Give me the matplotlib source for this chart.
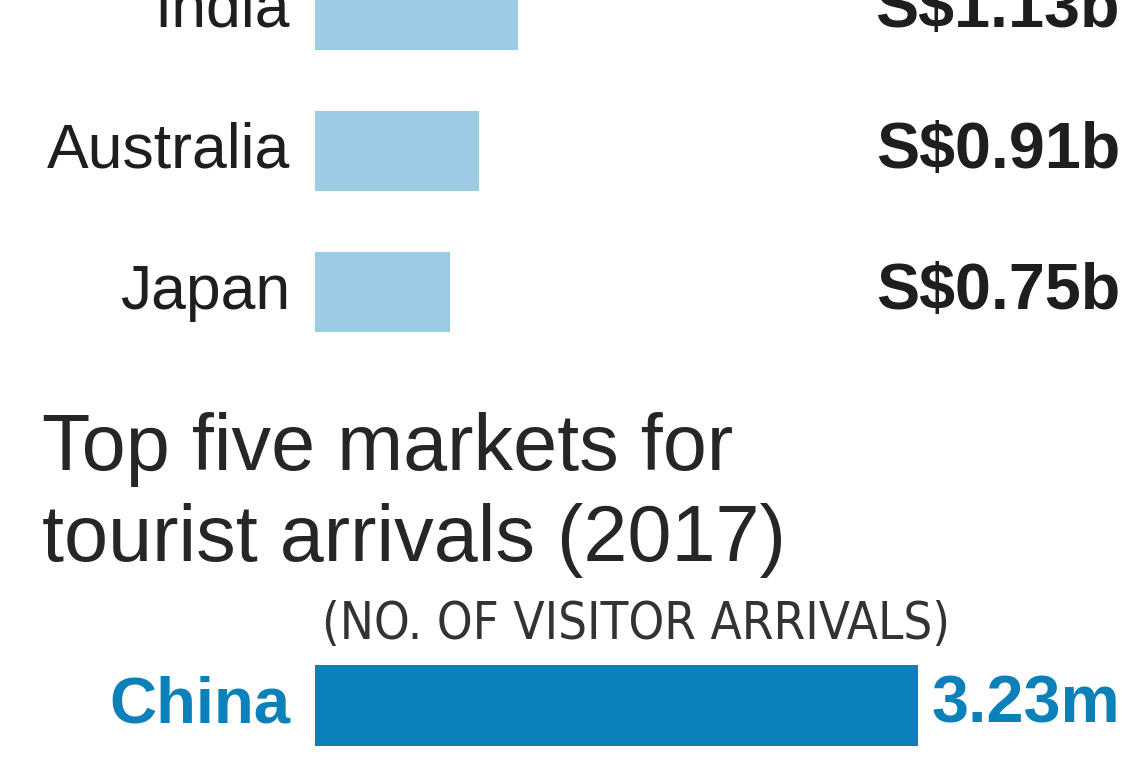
import matplotlib.pyplot as plt
import matplotlib as mpl

# spending (top, cut off) and arrivals (bottom) data
spend_countries = ['India', 'Australia', 'Japan']
spend_values = [1.13, 0.91, 0.75]          # S$ billion
spend_labels = ['S$1.13b', 'S$0.91b', 'S$0.75b']

arrival_countries = ['China']
arrival_values = [3.23]                    # million visitors
arrival_labels = ['3.23m']

title = 'Top five markets for\ntourist arrivals (2017)'
subtitle = '(NO. OF VISITOR ARRIVALS)'

light_blue = '#9ccbe6'
dark_blue = '#0b80b9'
text_col = '#1e1e1e'

mpl.rcParams['font.family'] = ['Liberation Sans', 'DejaVu Sans']

W, H = 1140, 760
fig = plt.figure(figsize=(W / 100, H / 100), dpi=100)

def px_axes(x0, y0, x1, y1):
    # axes from pixel box (top-left origin)
    return fig.add_axes([x0 / W, 1 - y1 / H, (x1 - x0) / W, (y1 - y0) / H])

# --- top: spending bars ---
ax1 = px_axes(315, 0, 1120, 340)
step = 141.0            # px between bars
ax1.barh(range(len(spend_values)), spend_values, height=80 / step,
         color=light_blue, edgecolor='none')
ax1.set_xlim(0, 805 / 180.0)
ax1.set_ylim(340 / step - 10 / step, -10 / step)
for i, (c, lab) in enumerate(zip(spend_countries, spend_labels)):
    ax1.text(-25 / 805 * ax1.get_xlim()[1], i, c, ha='right', va='center',
             fontsize=45, color=text_col)
    ax1.text(1.0, i, lab, transform=ax1.get_yaxis_transform(), ha='right',
             va='center', fontsize=46.5, fontweight='bold', color=text_col)
ax1.axis('off')

# --- title ---
fig.text(42 / W, 1 - 412 / H, title, ha='left', va='top', fontsize=57,
         color='#262626', linespacing=1.27)
fig.text(322 / W, 1 - 625 / H, subtitle, ha='left', va='center',
         fontsize=36.5, color='#333333', fontstretch='condensed',
         family=['Liberation Sans Narrow', 'DejaVu Sans'])

# --- bottom: arrivals ---
ax2 = px_axes(315, 655, 1120, 760)
u = 81 / 0.8
ax2.barh(range(len(arrival_values)), arrival_values, height=0.8,
         color=dark_blue, edgecolor='none')
ax2.set_xlim(0, 805 / (603 / 3.23))
ax2.set_ylim(105 / u - 50.5 / u, -50.5 / u)
for i, (c, lab, v) in enumerate(zip(arrival_countries, arrival_labels, arrival_values)):
    ax2.text(-25 / 805 * ax2.get_xlim()[1], i, c, ha='right', va='center',
             fontsize=47, fontweight='bold', color=dark_blue)
    ax2.text(1.0, i, lab, transform=ax2.get_yaxis_transform(), ha='right',
             va='center', fontsize=48, fontweight='bold', color=dark_blue)
ax2.axis('off')

plt.savefig('out.png', dpi=100)
